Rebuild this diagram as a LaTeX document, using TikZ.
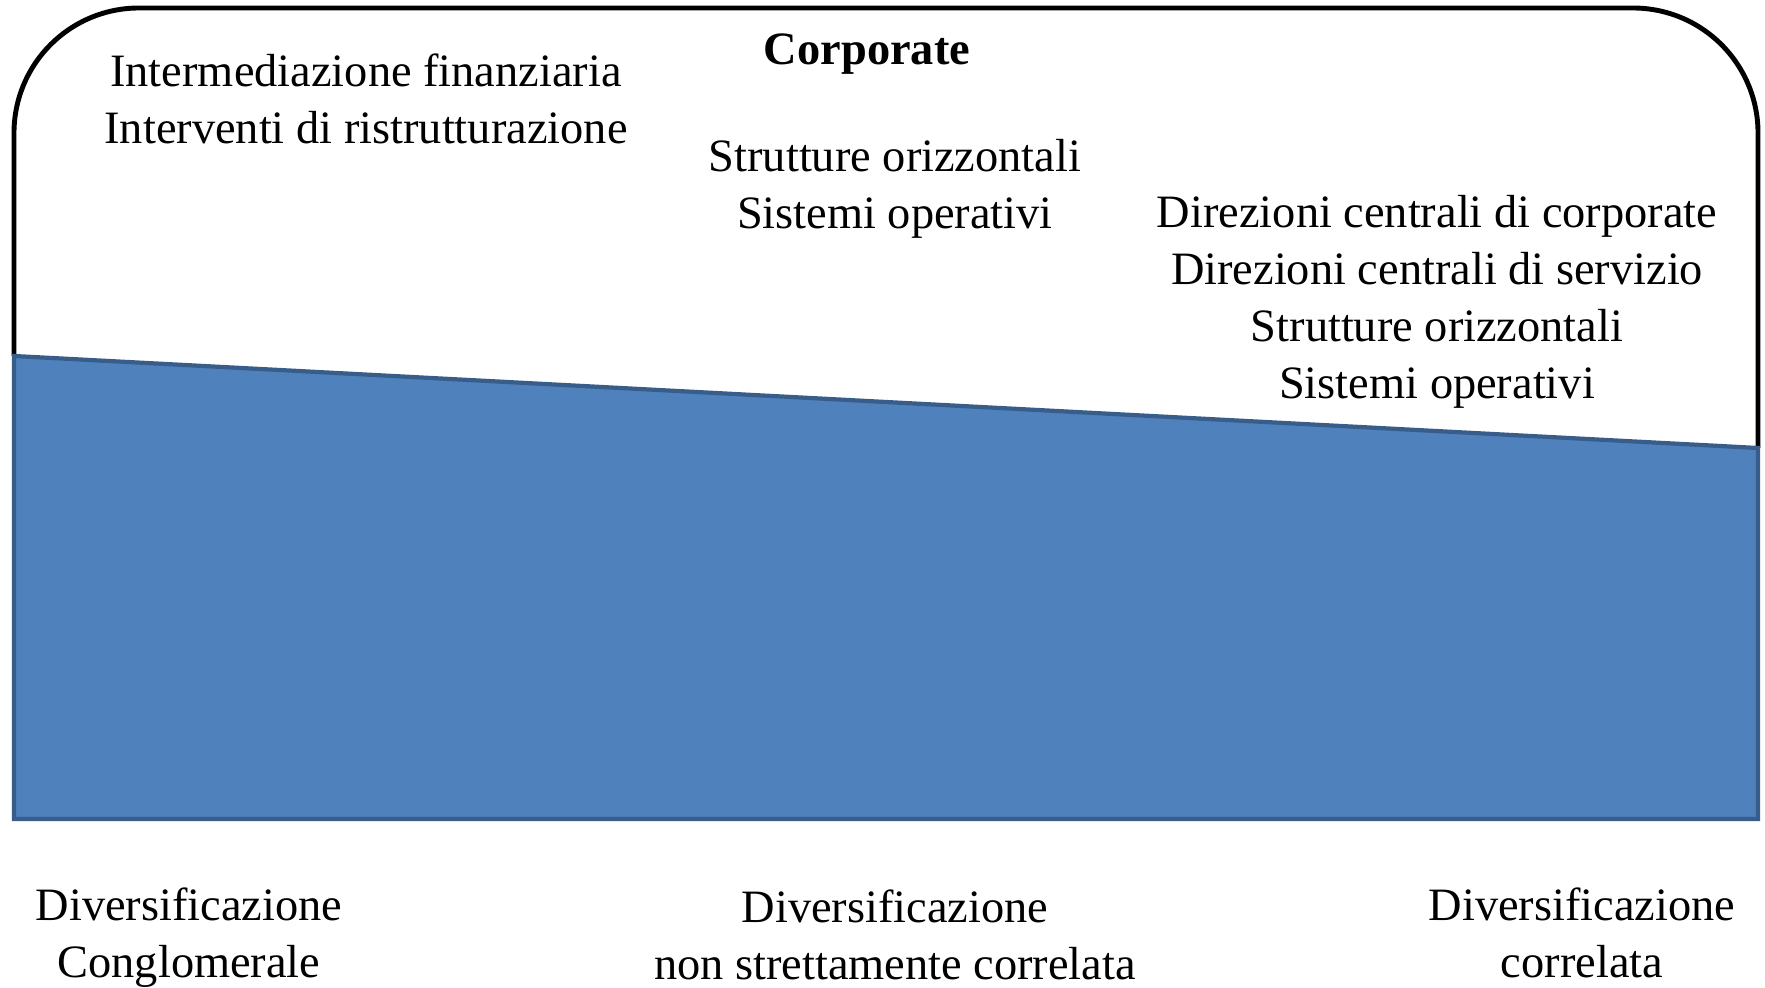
\documentclass[tikz,border=0pt]{standalone}
\usepackage{fontspec}
\setmainfont{Liberation Serif}
\usetikzlibrary{positioning}
\definecolor{divblue}{HTML}{4F81BD}
\definecolor{divedge}{HTML}{385D8A}

\begin{document}
\begin{tikzpicture}[
  lbl/.style={align=center, inner sep=0pt, font=\fontsize{13.2}{16.2}\selectfont}]
\useasboundingbox (0,0) rectangle (17.65,9.87);

\draw[black, line width=1.4pt, rounded corners=1.25cm] (0.14,6.31) -- (0.14,9.79) -- (17.58,9.79) -- (17.58,5.39);
\filldraw[fill=divblue, draw=divedge, line width=1.2pt] (0.14,6.31) -- (17.58,5.39) -- (17.58,1.68) -- (0.14,1.68) -- cycle;

\node[lbl, font=\fontsize{13.2}{16.2}\selectfont\bfseries] (corp) at (8.67,9.33) {Corporate};
\node[lbl] (conglTop) at (3.66,8.88) {Intermediazione finanziaria\\Interventi di ristrutturazione};
\node[lbl] (nonTop) at (8.95,7.98) {Strutture orizzontali\\Sistemi operativi};
\node[lbl] (corrTop) at (14.37,6.85) {Direzioni centrali di corporate\\Direzioni centrali di servizio\\Strutture orizzontali\\Sistemi operativi};

\node[lbl] (congl) at (1.89,0.49) {Diversificazione\\Conglomerale};
\node[lbl] (non) at (8.95,0.525) {Diversificazione\\non strettamente correlata};
\node[lbl] (corr) at (15.82,0.545) {Diversificazione\\correlata};

\end{tikzpicture}
\end{document}
